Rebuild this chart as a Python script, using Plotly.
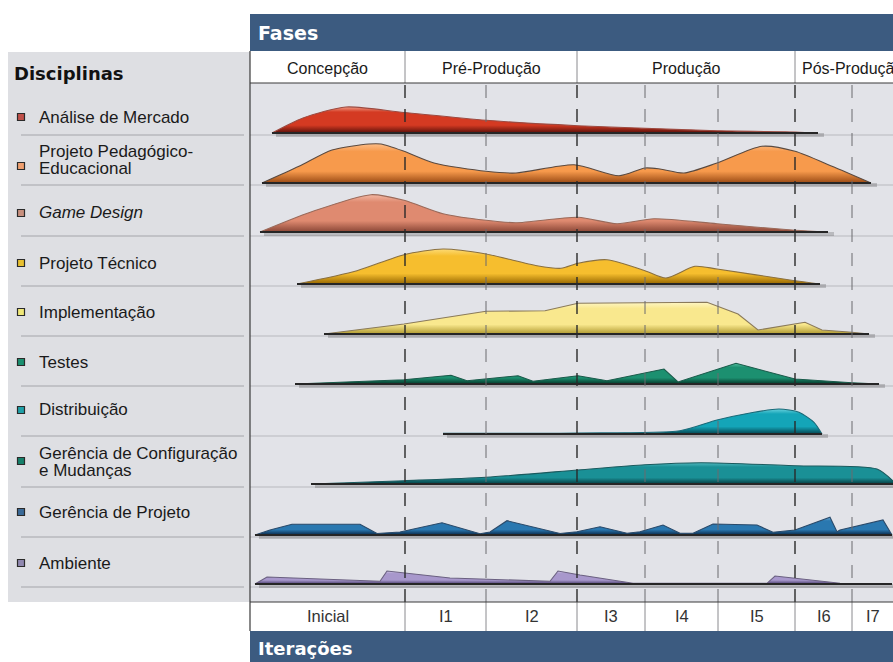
import plotly.graph_objects as go

# ---------------- data ----------------
disciplines = ["Análise de Mercado", "Projeto Pedagógico-\nEducacional", "Game Design",
               "Projeto Técnico", "Implementação", "Testes", "Distribuição",
               "Gerência de Configuração\ne Mudanças", "Gerência de Projeto", "Ambiente"]
italic = [False, False, True, False, False, False, False, False, False, False]

phases = ["Concepção", "Pré-Produção", "Produção", "Pós-Produção"]
phase_bounds = [0, 155, 327, 545]
iterations = ["Inicial", "I1", "I2", "I3", "I4", "I5", "I6", "I7"]
iter_bounds = [0, 155, 236, 327, 395, 468, 545, 602, 643]

analise_t = [22, 53, 96, 154, 236, 328, 395, 467, 545, 568]
analise_h = [0, 15, 26, 20.5, 12.7, 7.3, 4.7, 2.3, 1, 0]

pedag_t = [12, 49, 82, 119, 131, 154, 184, 236, 266, 324, 369, 395, 410, 434, 467, 512, 545, 582, 621]
pedag_h = [0, 16.7, 33, 39, 39, 31.7, 20, 11.7, 10, 18.3, 7.3, 15, 14, 10, 20, 36.7, 31.7, 16.7, 0]

game_t = [10, 61, 121, 154, 193, 236, 266, 328, 367, 404, 467, 545, 578]
game_h = [0, 20, 37.3, 31.7, 18.3, 11.7, 9.3, 14.7, 8.3, 13.3, 8.3, 1.7, 0]

tecnico_t = [47, 107, 154, 193, 236, 287, 311, 328, 357, 395, 416, 445, 467, 545, 570]
tecnico_h = [0, 13.3, 29.3, 35, 30, 18.3, 15.7, 20.7, 24.3, 13.3, 6, 17.7, 15, 3.3, 0]

impl_t = [74, 154, 236, 295, 328, 457, 488, 508, 555, 572, 602, 619]
impl_h = [0, 10, 22.7, 23.3, 30.7, 31.7, 20, 4, 11.7, 4, 1.7, 0]

testes_t = [45, 154, 201, 217, 268, 283, 328, 357, 414, 428, 486, 545, 602, 629]
testes_h = [0, 4.3, 8.7, 3.3, 8.3, 2.7, 8.3, 3.3, 15, 2, 20.7, 5, 1.3, 0]

distrib_t = [193, 328, 430, 467, 500, 529, 549, 564, 572]
distrib_h = [0.8, 1, 3.3, 14, 21, 25, 21.7, 11.7, 0]

config_t = [61, 154, 236, 328, 395, 451, 545, 627, 643]
config_h = [0, 3.3, 6.7, 14, 19.3, 21.3, 18.3, 15, 3]

gerproj_t = [5, 20, 42, 110, 127, 150, 192, 230, 240, 257, 310, 327, 350, 377, 390, 413,
             430, 443, 463, 507, 523, 545, 580, 587, 590, 633, 642]
gerproj_h = [0, 5, 10.7, 10.7, 1.5, 3, 12.3, 1.2, 3, 14.3, 1.5, 3.3, 8.3, 1.7, 3.3, 10,
             1.7, 1.7, 11, 10, 2.7, 5, 17.7, 3.3, 5, 15, 0]

amb_t = [5, 17, 130, 137, 200, 300, 308, 330, 383, 517, 525, 590, 642]
amb_h = [0, 7, 2.7, 13, 6, 2.7, 13, 9, 0.7, 0.7, 8, 0.7, 0.5]

series_t = [analise_t, pedag_t, game_t, tecnico_t, impl_t, testes_t, distrib_t, config_t, gerproj_t, amb_t]
series_h = [analise_h, pedag_h, game_h, tecnico_h, impl_h, testes_h, distrib_h, config_h, gerproj_h, amb_h]

# ---------------- styles ----------------
grad = [  # bottom, mid, top, outline, legend square
    ("#5a100a", "#d43a22", "#f09a84", "#9c4a40", "#c0504a"),
    ("#9a4a14", "#f79a4c", "#fdbd88", "#5a4a40", "#f0a070"),
    ("#8a4636", "#df8a70", "#f3b8a4", "#9a6a5a", "#c8907e"),
    ("#986800", "#f6be2e", "#fddb76", "#8a7040", "#e8c030"),
    ("#b09a30", "#f9e88e", "#fef6c4", "#8a7a5a", "#f0e878"),
    ("#05382a", "#1c9070", "#52bc9e", "#1a5a4a", "#1a9070"),
    ("#05444f", "#14a5b8", "#66d0dc", "#1a6a78", "#20a0a8"),
    ("#053c40", "#1a9096", "#52b8be", "#1a5a5e", "#15806a"),
    ("#0a2848", "#2a78b0", "#6eb0dc", "#2a4a6a", "#3a6a98"),
    ("#4a3e6e", "#a898cc", "#d2c8e8", "#6a6080", "#9088b0"),
]
shapes_line = ["spline", "spline", "spline", "spline", "linear", "linear", "spline", "spline", "linear", "linear"]

W, H = 893, 662
CX0 = 250
separators = [135, 185, 236, 286, 336, 386, 436, 487, 537, 587]
baselines = [133, 183, 232, 284, 334, 384, 434, 484, 535, 584]
label_y = [117, 160, 212, 263, 312, 362, 410, 462, 512, 563]
square_y = [117, 166, 213, 263, 312, 362, 410, 461, 512, 563]

def py(p):
    return 1 - p / H

def px(p):
    return p / W

fig = go.Figure()
layout_axes = {}
for i in range(10):
    yname = "y" if i == 0 else f"y{i+1}"
    lname = "yaxis" if i == 0 else f"yaxis{i+1}"
    b = baselines[i]
    layout_axes[lname] = dict(domain=[py(b + 4), py(b - 46)], range=[-4, 46], visible=False,
                              fixedrange=True, anchor="x")
    t, h = series_t[i], series_h[i]
    bot, mid, top, outl, _ = grad[i]
    # soft shadow under the baseline
    fig.add_trace(go.Scatter(x=[t[0] + 4, t[-1] + 6], y=[-2, -2], mode="lines", yaxis=yname,
                             line=dict(color="rgba(40,40,40,0.22)", width=4), hoverinfo="skip"))
    fig.add_trace(go.Scatter(x=t, y=h, mode="lines", yaxis=yname, fill="tozeroy",
                             line=dict(color=outl, width=1.1, shape=shapes_line[i], smoothing=0.7),
                             fillgradient=dict(type="vertical",
                                               colorscale=[[0, bot], [0.3, mid], [0.8, mid], [1, top]]),
                             hoverinfo="skip"))
    fig.add_trace(go.Scatter(x=[t[0], t[-1]], y=[0, 0], mode="lines", yaxis=yname,
                             line=dict(color="#262626", width=2), hoverinfo="skip"))

shapes = []
BG = "#e2e3e8"
# left panel
shapes.append(dict(type="rect", xref="paper", yref="paper", x0=px(8), x1=px(CX0), y0=py(602), y1=py(52),
                   fillcolor="#dedfe3", line_width=0, layer="below"))
# chart area
shapes.append(dict(type="rect", xref="paper", yref="paper", x0=px(CX0), x1=1, y0=py(602), y1=py(83),
                   fillcolor=BG, line_width=0, layer="below"))
# header bars
shapes.append(dict(type="rect", xref="paper", yref="paper", x0=px(CX0), x1=1, y0=py(51), y1=py(14),
                   fillcolor="#3c5b80", line_width=0, layer="below"))
shapes.append(dict(type="rect", xref="paper", yref="paper", x0=px(CX0), x1=1, y0=py(662), y1=py(631),
                   fillcolor="#3c5b80", line_width=0, layer="below"))
# row separators
for s in separators:
    shapes.append(dict(type="line", xref="paper", yref="paper", x0=px(21), x1=px(244), y0=py(s), y1=py(s),
                       line=dict(color="#a4a5aa", width=1), layer="below"))
    shapes.append(dict(type="line", xref="paper", yref="paper", x0=px(CX0), x1=1, y0=py(s), y1=py(s),
                       line=dict(color="#b8b9be", width=1), layer="below"))
# dashed iteration / phase boundaries
for b in iter_bounds[1:-1]:
    is_phase = b in phase_bounds
    shapes.append(dict(type="line", xref="x", yref="paper", x0=b, x1=b, y0=py(602), y1=py(83),
                       line=dict(color="#2a2a2a" if is_phase else "#6a6a6e", width=1.4 if is_phase else 1,
                                 dash="13px,11px"), layer="above"))
    shapes.append(dict(type="line", xref="x", yref="paper", x0=b, x1=b, y0=py(631), y1=py(602),
                       line=dict(color="#8a8a8e", width=1), layer="above"))
for b in phase_bounds[1:]:
    shapes.append(dict(type="line", xref="x", yref="paper", x0=b, x1=b, y0=py(83), y1=py(51),
                       line=dict(color="#8a8a8e", width=1), layer="above"))
# frame lines
shapes.append(dict(type="line", xref="paper", yref="paper", x0=px(CX0), x1=1, y0=py(83), y1=py(83),
                   line=dict(color="#3a3a3a", width=1.2), layer="above"))
shapes.append(dict(type="line", xref="paper", yref="paper", x0=px(CX0), x1=1, y0=py(602), y1=py(602),
                   line=dict(color="#3a3a3a", width=1.2), layer="above"))
shapes.append(dict(type="line", xref="paper", yref="paper", x0=px(CX0), x1=px(CX0), y0=py(631), y1=py(51),
                   line=dict(color="#3a3a3a", width=1.2), layer="above"))
# legend squares
for i in range(10):
    shapes.append(dict(type="rect", xref="paper", yref="paper", x0=px(17.5), x1=px(24.5),
                       y0=py(square_y[i] + 3.5), y1=py(square_y[i] - 3.5),
                       fillcolor=grad[i][4], line=dict(color="#2a2a2a", width=1.2), layer="above"))

ann = []
LF = "Liberation Sans, Arial, sans-serif"
ann.append(dict(text="<b>Fases</b>", x=px(256), y=py(33), xref="paper", yref="paper", xanchor="left",
                yanchor="middle", showarrow=False, font=dict(family="DejaVu Sans", size=19, color="white")))
ann.append(dict(text="<b>Iterações</b>", x=px(256), y=py(648), xref="paper", yref="paper", xanchor="left",
                yanchor="middle", showarrow=False, font=dict(family="DejaVu Sans", size=18, color="white")))
ann.append(dict(text="<b>Disciplinas</b>", x=px(12), y=py(73), xref="paper", yref="paper", xanchor="left",
                yanchor="middle", showarrow=False, font=dict(family="DejaVu Sans", size=18, color="#111")))
for i, name in enumerate(disciplines):
    lines = name.split("\n")
    n = len(lines)
    for k, ln in enumerate(lines):
        yy = label_y[i] + (k - (n - 1) / 2) * 16.5
        txt = f"<i>{ln}</i>" if italic[i] else ln
        ann.append(dict(text=txt, x=px(37), y=py(yy), xref="paper", yref="paper", xanchor="left",
                        yanchor="middle", showarrow=False, font=dict(family=LF, size=17, color="#1a1a1a")))
for k, ph in enumerate(phases):
    if k < len(phases) - 1:
        ann.append(dict(text=ph, x=(phase_bounds[k] + phase_bounds[k + 1]) / 2, y=py(68), xref="x",
                        yref="paper", xanchor="center", yanchor="middle", showarrow=False,
                        font=dict(family=LF, size=16, color="#1a1a1a")))
    else:
        ann.append(dict(text=ph, x=phase_bounds[k] + 5, y=py(68), xref="x", yref="paper", xanchor="left",
                        yanchor="middle", showarrow=False, font=dict(family=LF, size=16, color="#1a1a1a")))
for k, it in enumerate(iterations):
    ann.append(dict(text=it, x=(iter_bounds[k] + iter_bounds[k + 1]) / 2, y=py(616), xref="x",
                    yref="paper", xanchor="center", yanchor="middle", showarrow=False,
                    font=dict(family=LF, size=16.5, color="#333")))

fig.update_layout(
    width=W, height=H, margin=dict(l=0, r=0, t=0, b=0),
    paper_bgcolor="white", plot_bgcolor="rgba(0,0,0,0)",
    showlegend=False,
    xaxis=dict(domain=[px(CX0), 1], range=[0, 643], visible=False, fixedrange=True),
    shapes=shapes, annotations=ann,
    **layout_axes,
)
fig.write_html("out.html", config={"displayModeBar": False})
